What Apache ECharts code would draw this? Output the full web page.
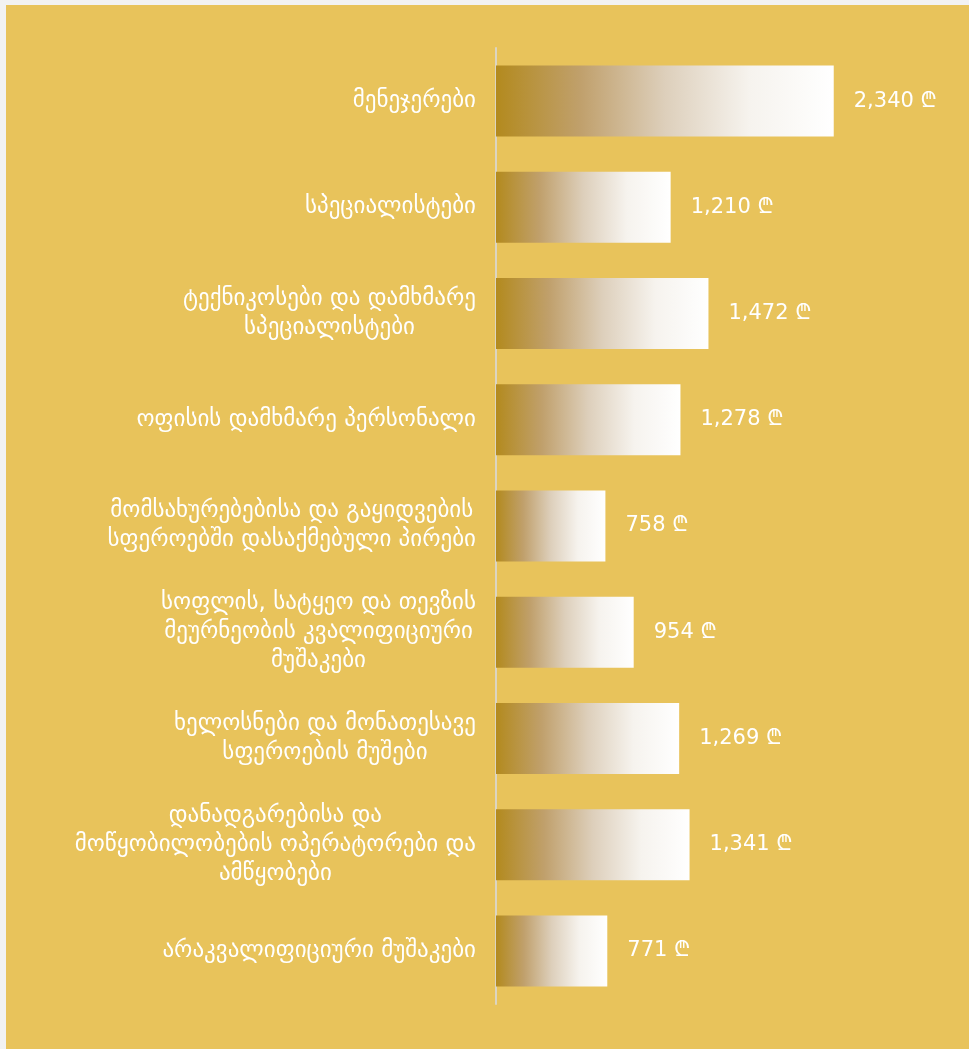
<!DOCTYPE html>
<html>
<head>
<meta charset="utf-8">
<script src="https://cdn.jsdelivr.net/npm/echarts@6/dist/echarts.min.js"></script>
<style>
  html, body { margin: 0; padding: 0; background: #f2f2f2; }
  #chart { position: absolute; left: 6px; top: 5px; width: 963px; height: 1044px; background: #e8c35b; }
</style>
</head>
<body>
<div id="chart"></div>
<script>
const categories = [
  "მენეჯერები",
  "სპეციალისტები",
  "ტექნიკოსები და დამხმარე\nსპეციალისტები",
  "ოფისის დამხმარე პერსონალი",
  "მომსახურებებისა და გაყიდვების\nსფეროებში დასაქმებული პირები",
  "სოფლის, სატყეო და თევზის\nმეურნეობის კვალიფიციური\nმუშაკები",
  "ხელოსნები და მონათესავე\nსფეროების მუშები",
  "დანადგარებისა და\nმოწყობილობების ოპერატორები და\nამწყობები",
  "არაკვალიფიციური მუშაკები"
];
const values = [2340, 1210, 1472, 1278, 758, 954, 1269, 1341, 771];
const currency = "₾";

const chart = echarts.init(document.getElementById('chart'));
const font = "'DejaVu Sans', 'Noto Sans', sans-serif";
chart.setOption({
  backgroundColor: '#e8c35b',
  animation: false,
  grid: { left: 490, right: 40, top: 43, bottom: 45, containLabel: false },
  xAxis: {
    type: 'value', min: 0, max: 3000,
    show: false, splitLine: { show: false }
  },
  yAxis: {
    type: 'category', inverse: true, data: categories,
    axisTick: { show: false },
    axisLine: { show: true, lineStyle: { color: '#dcd5c2', width: 2 } },
    axisLabel: {
      margin: 20, color: '#ffffff', fontSize: 23, fontFamily: font,
      align: 'right', lineHeight: 29,
      formatter: function (v) {
        return v.split('\n').map(function (l) { return '{c|' + l + '}'; }).join('\n');
      },
      rich: { c: { align: 'center', color: '#ffffff', fontSize: 23, fontFamily: font, lineHeight: 29 } }
    }
  },
  series: [{
    type: 'bar', data: values, barWidth: 71,
    itemStyle: {
      color: new echarts.graphic.LinearGradient(0, 0, 1, 0, [
        { offset: 0, color: '#b38a1e' },
        { offset: 0.25, color: '#c0a06c' },
        { offset: 0.5, color: '#ddcfbb' },
        { offset: 0.75, color: '#f6f3ee' },
        { offset: 1, color: '#ffffff' }
      ])
    },
    label: {
      show: true, position: 'right', distance: 20,
      color: '#ffffff', fontSize: 21, fontFamily: font,
      formatter: function (p) { return p.value.toLocaleString('en-US') + ' ' + currency; }
    }
  }]
});
</script>
</body>
</html>
